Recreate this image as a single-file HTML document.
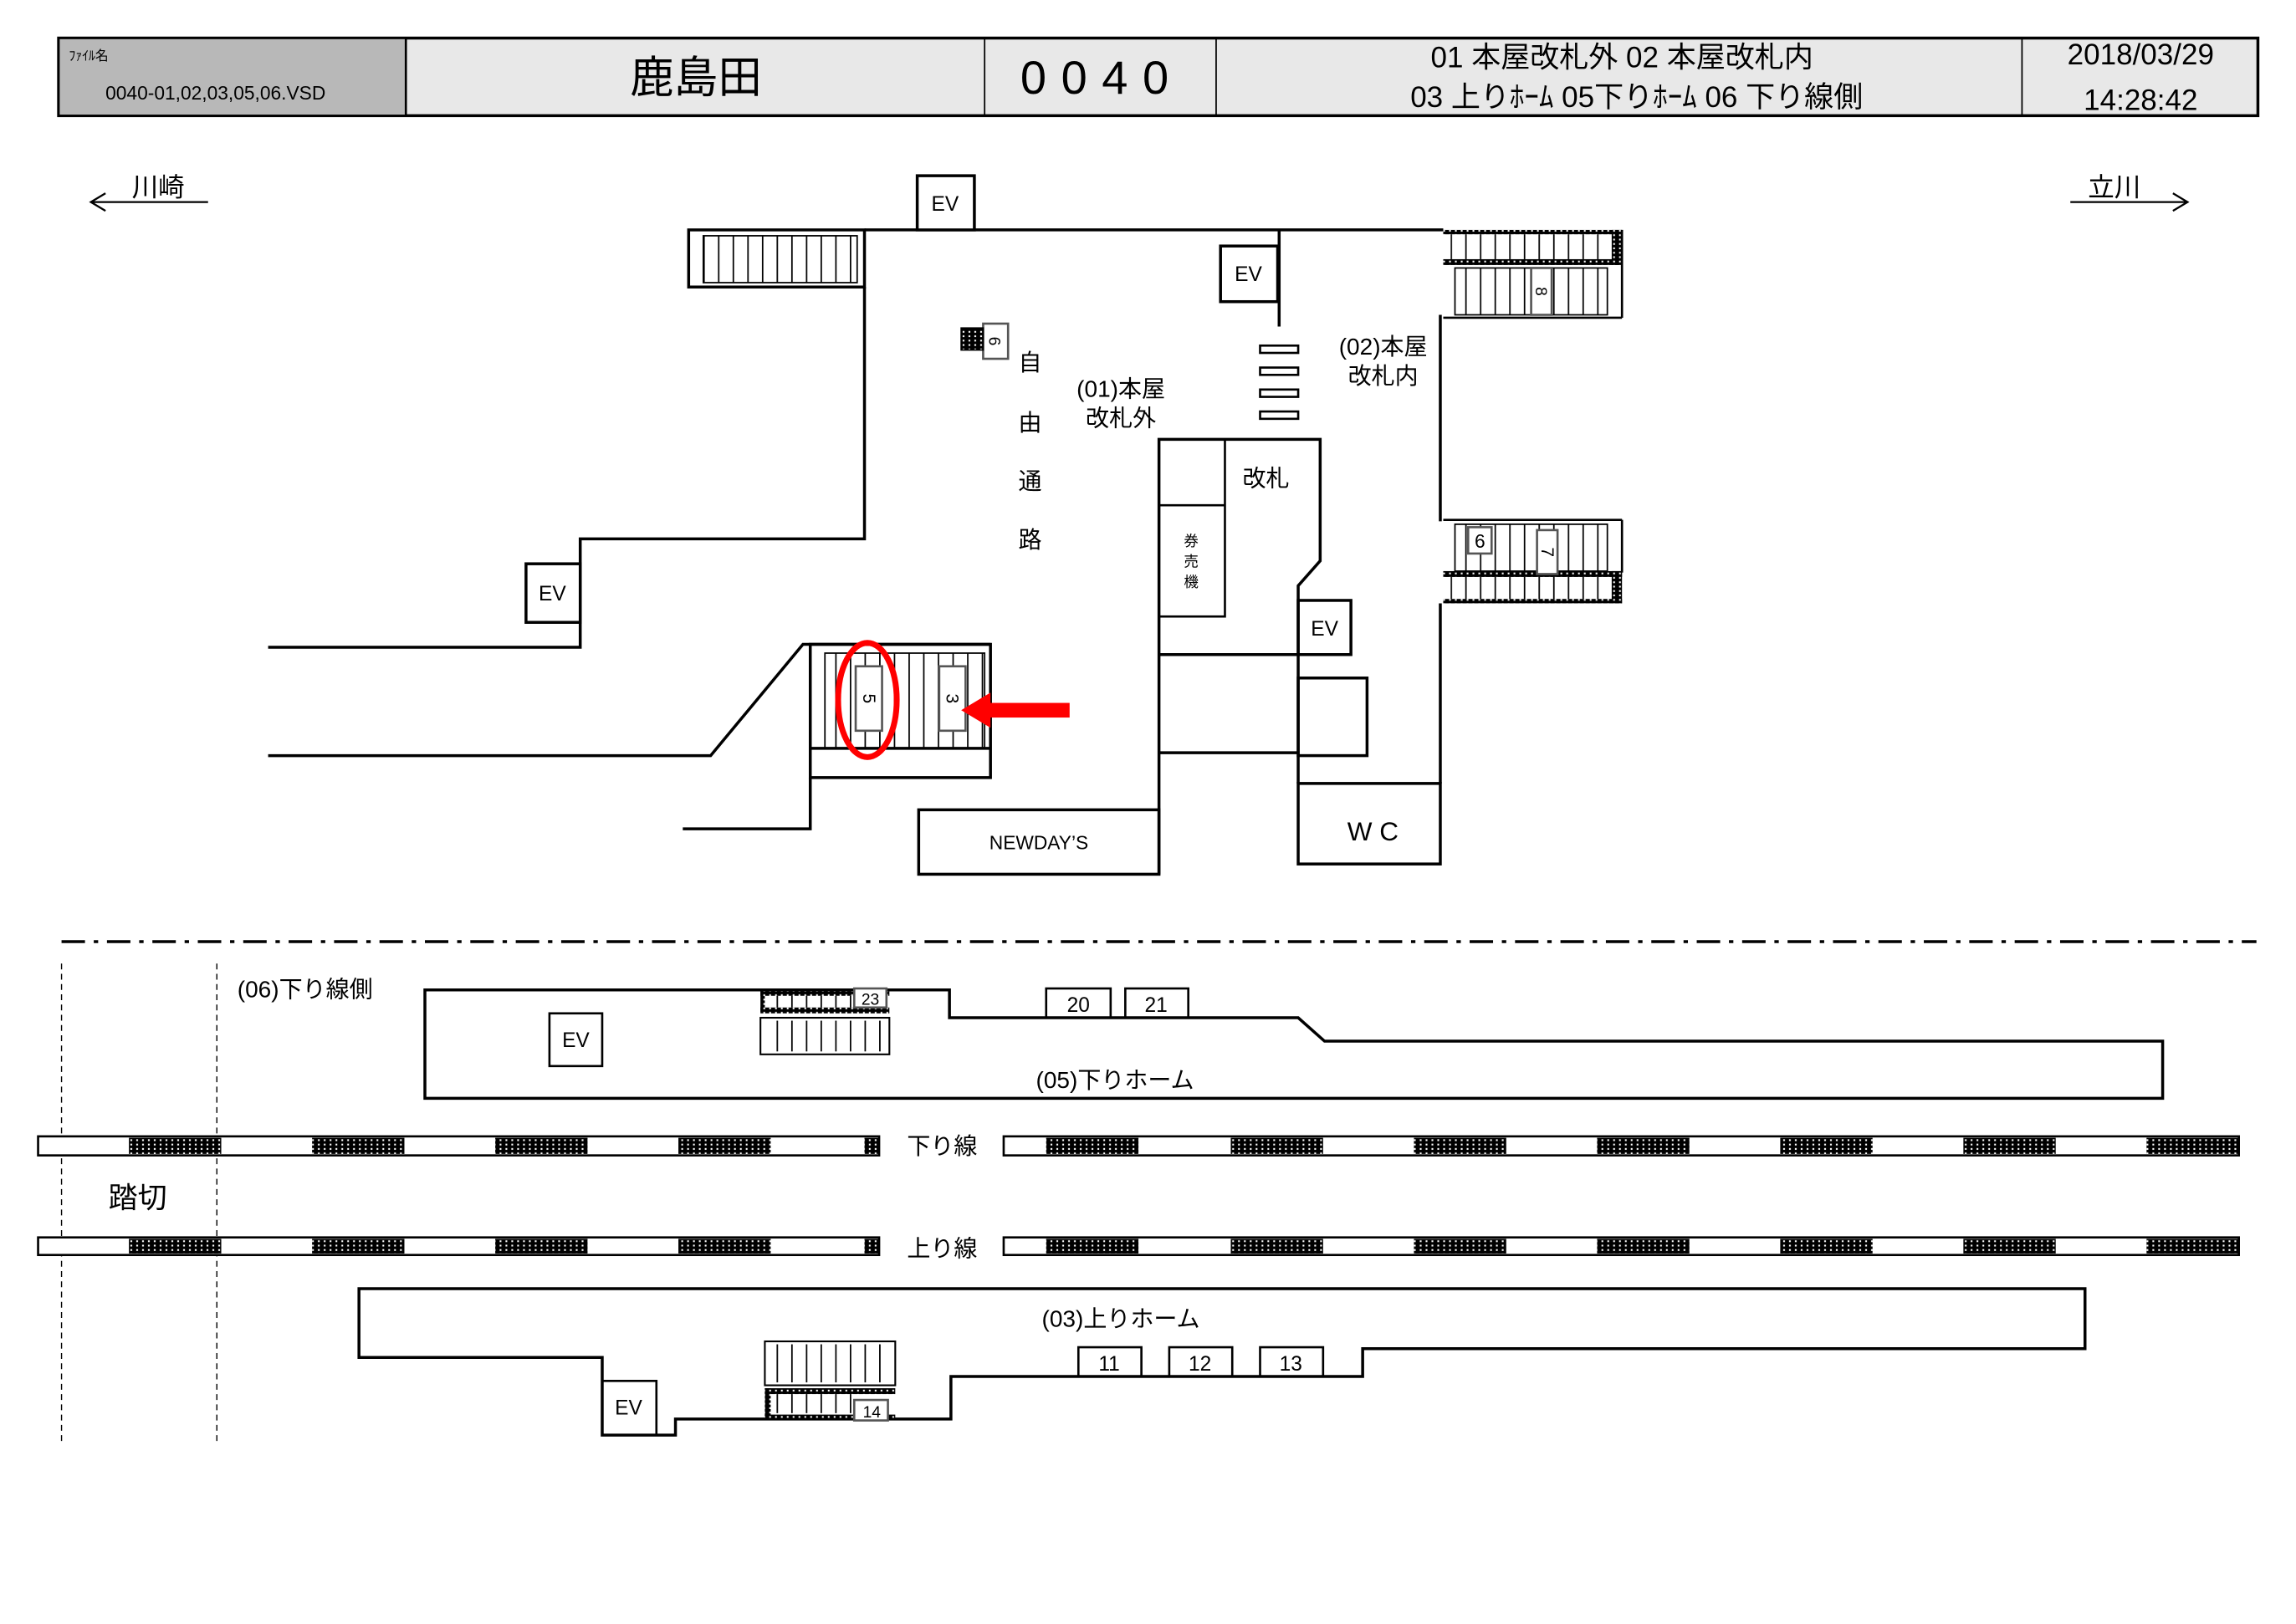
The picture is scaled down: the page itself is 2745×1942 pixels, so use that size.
<!DOCTYPE html>
<html><head><meta charset="utf-8"><style>
html,body{margin:0;padding:0;background:#fff;}
svg{display:block;}
text{font-family:"Liberation Sans","Noto Sans CJK JP",sans-serif;fill:#000;}
</style></head><body>
<svg width="2745" height="1942" viewBox="0 0 1567 1109" preserveAspectRatio="none" xmlns="http://www.w3.org/2000/svg">
<defs>
<pattern id="dk" width="4" height="3" patternUnits="userSpaceOnUse"><rect width="4" height="3" fill="#000"/><rect x="1" y="1" width="1.2" height="1.2" fill="#fff"/></pattern>
<pattern id="st" width="10" height="10" patternUnits="userSpaceOnUse"><line x1="0.5" y1="0" x2="0.5" y2="10" stroke="#000" stroke-width="1"/></pattern>
</defs>
<rect width="1567" height="1109" fill="#fff"/>
<!-- header -->
<rect x="40" y="26" width="1501" height="53" fill="#e8e8e8" stroke="#000" stroke-width="2"/>
<rect x="40" y="26" width="237" height="53" fill="#b8b8b8" stroke="#000" stroke-width="1.5"/>
<line x1="672" y1="26" x2="672" y2="79" stroke="#000"/>
<line x1="830" y1="26" x2="830" y2="79" stroke="#000"/>
<line x1="1380" y1="26" x2="1380" y2="79" stroke="#000"/>
<text x="47" y="41" font-size="9">ﾌｧｲﾙ名</text>
<text x="72" y="68" font-size="13">0040-01,02,03,05,06.VSD</text>
<text x="475" y="63" font-size="30" text-anchor="middle">鹿島田</text>
<text x="752" y="64" font-size="32" text-anchor="middle" letter-spacing="10">0040</text>
<text x="1107" y="46" font-size="20" text-anchor="middle">01 本屋改札外 02 本屋改札内</text>
<text x="1117" y="73" font-size="20" text-anchor="middle">03 上りﾎｰﾑ 05下りﾎｰﾑ 06 下り線側</text>
<text x="1461" y="44" font-size="20" text-anchor="middle">2018/03/29</text>
<text x="1461" y="75" font-size="20" text-anchor="middle">14:28:42</text>
<!-- direction -->
<text x="90" y="134" font-size="18">川崎</text>
<path d="M142,138 H62 M72,132 L62,138 L72,144" fill="none" stroke="#000" stroke-width="1.3"/>
<text x="1425" y="134" font-size="18">立川</text>
<path d="M1413,138 H1493 M1483,132 L1493,138 L1483,144" fill="none" stroke="#000" stroke-width="1.3"/>
<g fill="none" stroke="#000" stroke-width="2">
<!-- top plan -->
<line x1="590" y1="157" x2="985" y2="157"/>
<rect x="626" y="120" width="39" height="37" fill="#fff"/>
<rect x="470" y="157" width="120" height="39"/>
<rect x="480" y="161" width="105" height="32" fill="url(#st)" stroke-width="1"/>
<polyline points="590,196 590,368 396,368 396,442 183,442"/>
<rect x="359" y="385" width="37" height="40" fill="#fff"/>
<polyline points="183,516 485,516 548,440 676,440"/>
<rect x="553" y="440" width="123" height="91"/>
<rect x="563" y="446" width="109" height="65" fill="url(#st)" stroke-width="1"/>
<line x1="553" y1="511" x2="676" y2="511"/>
<polyline points="553,531 553,566 466,566"/>
<line x1="873" y1="157" x2="873" y2="223"/>
<rect x="833" y="168" width="39" height="38"/>
<g stroke-width="1.5"><rect x="860" y="236" width="26" height="5"/><rect x="860" y="251" width="26" height="5"/><rect x="860" y="266" width="26" height="5"/><rect x="860" y="281" width="26" height="5"/></g>
<polyline points="791,597 791,300 901,300 901,383 886,400 886,535"/>
<rect x="791" y="300" width="45" height="121" stroke-width="1.5"/>
<line x1="791" y1="345" x2="836" y2="345" stroke-width="1.5"/>
<rect x="886" y="410" width="36" height="37"/>
<line x1="791" y1="447" x2="886" y2="447"/>
<rect x="886" y="463" width="47" height="53"/>
<line x1="791" y1="514" x2="886" y2="514"/>
<rect x="886" y="535" width="97" height="55"/>
<line x1="983" y1="215" x2="983" y2="356"/>
<line x1="983" y1="412" x2="983" y2="535"/>
<rect x="627" y="553" width="164" height="44"/>
</g>
<!-- right stairs top -->
<g stroke="#000">
<rect x="985" y="157" width="122" height="3" fill="url(#dk)" stroke="none"/>
<rect x="990" y="160" width="110" height="17" fill="url(#st)" stroke="none"/>
<rect x="985" y="177" width="122" height="4" fill="url(#dk)" stroke="none"/>
<rect x="1100" y="157" width="7" height="24" fill="url(#dk)" stroke="none"/>
<line x1="1107" y1="157" x2="1107" y2="217" stroke-width="1.5"/>
<line x1="985" y1="217" x2="1107" y2="217" stroke-width="1.5"/>
<rect x="993" y="183" width="104" height="32" fill="url(#st)" stroke-width="1"/>
<!-- bottom -->
<line x1="985" y1="355" x2="1107" y2="355" stroke-width="1.5"/>
<line x1="1107" y1="355" x2="1107" y2="391" stroke-width="1.5"/>
<rect x="993" y="358" width="104" height="32" fill="url(#st)" stroke-width="1"/>
<rect x="985" y="390" width="122" height="4" fill="url(#dk)" stroke="none"/>
<rect x="990" y="394" width="110" height="15" fill="url(#st)" stroke="none"/>
<rect x="985" y="409" width="122" height="3" fill="url(#dk)" stroke="none"/>
<rect x="1100" y="390" width="7" height="22" fill="url(#dk)" stroke="none"/>
</g>
<!-- small labeled boxes top -->
<g fill="#fff" stroke="#555" stroke-width="1.5">
<rect x="1045" y="183" width="14" height="32"/>
<rect x="1002" y="360" width="16" height="18"/>
<rect x="1049" y="362" width="14" height="30"/>
<rect x="671" y="221" width="17" height="24"/>
<rect x="584" y="455" width="18" height="44"/>
<rect x="641" y="455" width="18" height="44"/>
</g>
<rect x="656" y="224" width="15" height="15" fill="url(#dk)" stroke="#000"/>
<text transform="translate(1048,199) rotate(90)" font-size="11" text-anchor="middle">8</text>
<text x="1010" y="374" font-size="13" text-anchor="middle">6</text>
<text transform="translate(1052,377) rotate(90)" font-size="12" text-anchor="middle">7</text>
<text transform="translate(675,233) rotate(90)" font-size="11" text-anchor="middle">6</text>
<text transform="translate(589,477) rotate(90)" font-size="12" text-anchor="middle">5</text>
<text transform="translate(646,477) rotate(90)" font-size="12" text-anchor="middle">3</text>
<ellipse cx="592" cy="478" rx="20" ry="39" fill="none" stroke="#f00" stroke-width="4"/>
<rect x="672" y="480" width="58" height="10" fill="#f00"/>
<polygon points="656,485 676,473 676,497" fill="#f00"/>
<g font-size="14" text-anchor="middle">
<text x="645" y="144">EV</text><text x="852" y="192">EV</text><text x="377" y="410">EV</text><text x="904" y="434">EV</text>
</g>
<g font-size="16" text-anchor="middle">
<text x="703" y="253">自</text><text x="703" y="294">由</text><text x="703" y="334">通</text><text x="703" y="374">路</text>
<text x="765" y="271">(01)本屋</text><text x="765" y="291">改札外</text>
<text x="944" y="242">(02)本屋</text><text x="944" y="262">改札内</text>
<text x="864" y="332">改札</text>
<text x="937" y="574" font-size="18">W C</text>
</g>
<g font-size="10" text-anchor="middle"><text x="813" y="373">券</text><text x="813" y="387">売</text><text x="813" y="401">機</text></g>
<text x="709" y="580" font-size="13" text-anchor="middle">NEWDAY’S</text>
<!-- divider -->
<line x1="42" y1="643" x2="1540" y2="643" stroke="#000" stroke-width="2" stroke-dasharray="16,6,3,6"/>
<line x1="42" y1="658" x2="42" y2="985" stroke="#000" stroke-width="0.8" stroke-dasharray="4,3"/>
<line x1="148" y1="658" x2="148" y2="985" stroke="#000" stroke-width="0.8" stroke-dasharray="4,3"/>
<!-- tracks -->
<g stroke="#000" stroke-width="1.5">
<rect x="26" y="776" width="574" height="13" fill="#fff"/><rect x="685" y="776" width="843" height="13" fill="#fff"/>
<rect x="26" y="845" width="574" height="12" fill="#fff"/><rect x="685" y="845" width="843" height="12" fill="#fff"/>
</g>
<g fill="url(#dk)">
<rect x="88" y="777" width="63" height="11"/><rect x="213" y="777" width="63" height="11"/><rect x="338" y="777" width="63" height="11"/><rect x="463" y="777" width="63" height="11"/><rect x="590" y="777" width="10" height="11"/>
<rect x="714" y="777" width="63" height="11"/><rect x="840" y="777" width="63" height="11"/><rect x="965" y="777" width="63" height="11"/><rect x="1090" y="777" width="63" height="11"/><rect x="1215" y="777" width="63" height="11"/><rect x="1340" y="777" width="63" height="11"/><rect x="1465" y="777" width="63" height="11"/>
<rect x="88" y="846" width="63" height="10"/><rect x="213" y="846" width="63" height="10"/><rect x="338" y="846" width="63" height="10"/><rect x="463" y="846" width="63" height="10"/><rect x="590" y="846" width="10" height="10"/>
<rect x="714" y="846" width="63" height="10"/><rect x="840" y="846" width="63" height="10"/><rect x="965" y="846" width="63" height="10"/><rect x="1090" y="846" width="63" height="10"/><rect x="1215" y="846" width="63" height="10"/><rect x="1340" y="846" width="63" height="10"/><rect x="1465" y="846" width="63" height="10"/>
</g>
<rect x="612" y="770" width="62" height="24" fill="#fff"/>
<rect x="612" y="840" width="62" height="24" fill="#fff"/>
<text x="643" y="788" font-size="16" text-anchor="middle">下り線</text>
<text x="643" y="858" font-size="16" text-anchor="middle">上り線</text>
<text x="94" y="825" font-size="20" text-anchor="middle">踏切</text>
<!-- platforms -->
<g fill="none" stroke="#000" stroke-width="2">
<polygon points="290,676 648,676 648,695 886,695 904,711 1476,711 1476,750 290,750"/>
<polygon points="245,880 1423,880 1423,921 930,921 930,940 649,940 649,969 461,969 461,980 411,980 411,927 245,927"/>
<rect x="375" y="692" width="36" height="36" stroke-width="1.5"/>
<rect x="411" y="943" width="37" height="37" stroke-width="1.5"/>
<rect x="714" y="675" width="44" height="20" stroke-width="1.5"/>
<rect x="768" y="675" width="43" height="20" stroke-width="1.5"/>
<rect x="736" y="920" width="43" height="20" stroke-width="1.5"/>
<rect x="798" y="920" width="43" height="20" stroke-width="1.5"/>
<rect x="860" y="920" width="43" height="20" stroke-width="1.5"/>
</g>
<!-- platform stairs -->
<rect x="519" y="677" width="88" height="3" fill="url(#dk)"/>
<rect x="519" y="677" width="3" height="14" fill="url(#dk)"/>
<rect x="523" y="680" width="60" height="8" fill="url(#st)"/>
<rect x="519" y="688" width="88" height="4" fill="url(#dk)"/>
<rect x="519" y="695" width="88" height="25" fill="#fff" stroke="#000" stroke-width="1.2"/>
<rect x="523" y="697" width="80" height="21" fill="url(#st)"/>
<rect x="583" y="675" width="22" height="13" fill="#fff" stroke="#555" stroke-width="1.5"/>
<text x="594" y="686" font-size="11" text-anchor="middle">23</text>
<rect x="522" y="916" width="89" height="30" fill="#fff" stroke="#000" stroke-width="1.2"/>
<rect x="527" y="918" width="80" height="26" fill="url(#st)"/>
<rect x="522" y="948" width="89" height="4" fill="url(#dk)"/>
<rect x="522" y="948" width="4" height="21" fill="url(#dk)"/>
<rect x="522" y="966" width="89" height="3" fill="url(#dk)"/>
<rect x="528" y="952" width="55" height="13" fill="url(#st)"/>
<rect x="583" y="956" width="23" height="14" fill="#fff" stroke="#555" stroke-width="1.5"/>
<text x="595" y="968" font-size="11" text-anchor="middle">14</text>
<g font-size="14" text-anchor="middle">
<text x="736" y="691">20</text><text x="789" y="691">21</text>
<text x="757" y="936">11</text><text x="819" y="936">12</text><text x="881" y="936">13</text>
<text x="393" y="715">EV</text><text x="429" y="966">EV</text>
</g>
<text x="162" y="681" font-size="16">(06)下り線側</text>
<text x="707" y="743" font-size="16">(05)下りホーム</text>
<text x="711" y="906" font-size="16">(03)上りホーム</text>
</svg>
</body></html>
